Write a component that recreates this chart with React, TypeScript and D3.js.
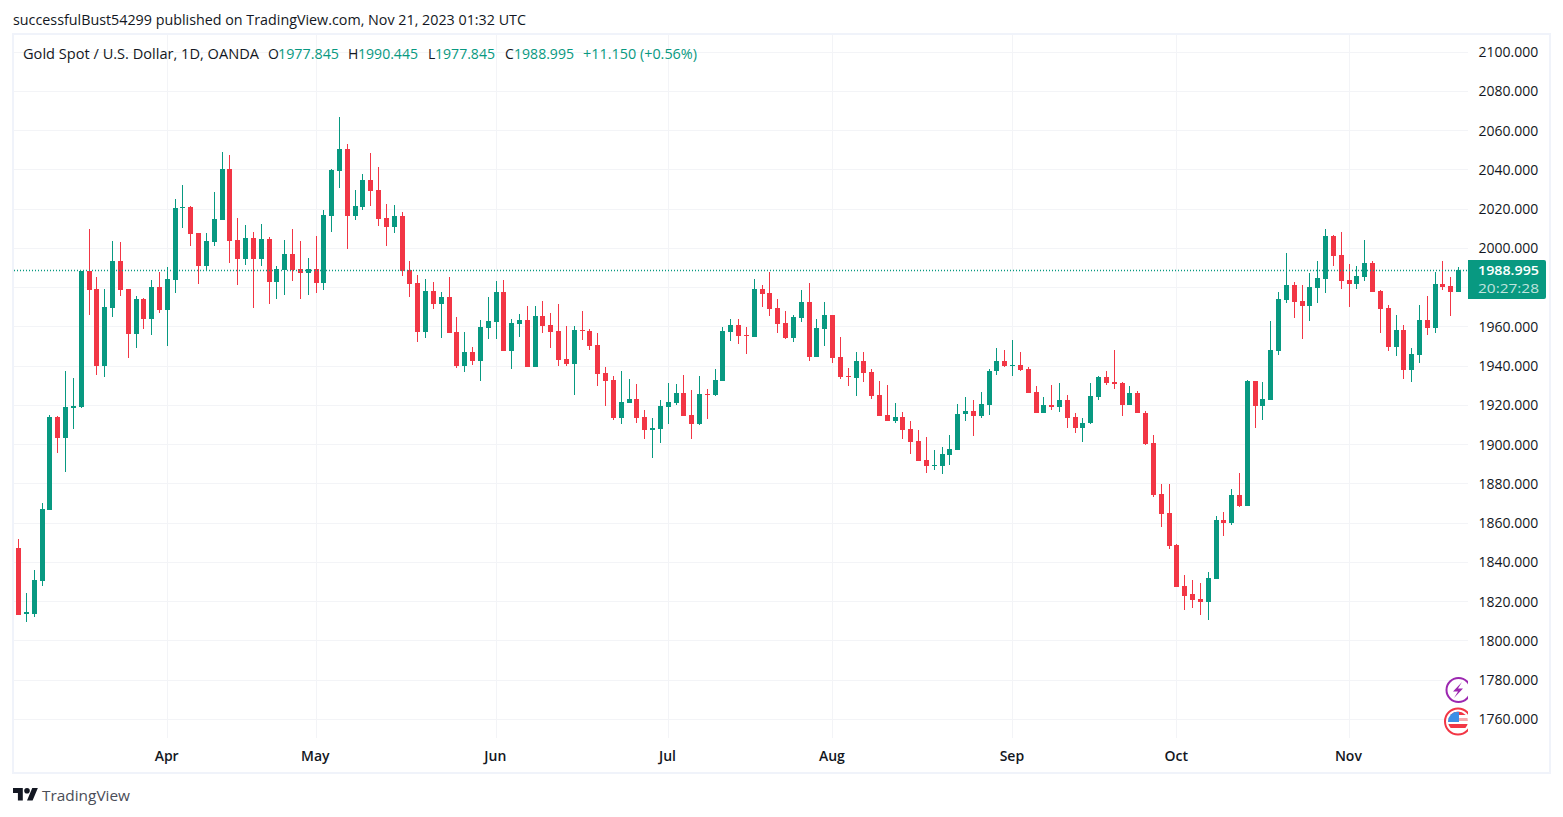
import React, { useEffect, useRef } from 'react';
import * as d3 from 'd3';

// daily OHLC, Gold Spot / USD
const opens = [
  1847.2, 1813.5, 1813.6, 1830.4, 1866.6, 1914.0, 1903.3, 1918.6, 1919.1, 1988.3,
  1979.1, 1940.0, 1969.4, 1993.4, 1979.1, 1956.2, 1974.0, 1963.9, 1980.3, 1968.6,
  1983.7, 2020.4, 2020.9, 2007.7, 1990.9, 2003.1, 2014.3, 2040.3, 2004.1, 1994.4,
  2005.1, 1994.4, 2004.6, 1982.7, 1988.8, 1997.0, 1989.3, 1987.3, 1989.3, 1982.2,
  2016.3, 2039.3, 2050.5, 2016.3, 2020.9, 2034.7, 2029.6, 2015.3, 2010.7, 2016.3,
  1988.8, 1982.2, 1957.2, 1978.1, 1971.5, 1975.0, 1957.2, 1939.9, 1947.0, 1942.4,
  1959.3, 1962.3, 1977.6, 1947.6, 1961.3, 1963.4, 1939.4, 1965.4, 1960.8, 1957.7,
  1943.5, 1940.9, 1958.3, 1957.7, 1950.6, 1936.3, 1932.8, 1913.4, 1921.0, 1923.1,
  1913.9, 1907.3, 1907.8, 1919.0, 1921.0, 1926.1, 1914.9, 1910.3, 1925.6, 1925.1,
  1932.3, 1957.2, 1960.8, 1955.7, 1954.7, 1979.2, 1977.1, 1969.5, 1961.8, 1954.2,
  1964.4, 1972.5, 1944.5, 1958.8, 1965.9, 1944.5, 1934.8, 1933.8, 1942.5, 1936.8,
  1925.1, 1914.9, 1911.9, 1913.9, 1907.8, 1901.7, 1892.0, 1888.9, 1888.9, 1894.5,
  1897.2, 1915.2, 1917.2, 1914.2, 1919.8, 1937.1, 1942.7, 1939.7, 1940.2, 1938.6,
  1926.4, 1916.2, 1919.8, 1918.8, 1922.8, 1913.7, 1908.1, 1910.6, 1923.9, 1934.1,
  1931.5, 1931.0, 1919.8, 1925.9, 1916.2, 1900.9, 1874.9, 1865.2, 1848.9, 1828.0,
  1823.5, 1821.3, 1819.8, 1831.5, 1861.6, 1860.0, 1874.3, 1868.7, 1932.4, 1919.6,
  1922.7, 1947.7, 1973.7, 1981.3, 1973.2, 1970.6, 1979.8, 1984.4, 2006.3, 1996.6,
  1983.9, 1981.8, 1985.4, 1992.5, 1978.3, 1969.6, 1949.7, 1958.4, 1938.0, 1945.6,
  1963.5, 1959.4, 1981.8, 1980.8, 1977.845,
];
const highs = [
  1851.8, 1824.3, 1836.0, 1870.2, 1915.0, 1914.5, 1937.5, 1933.9, 1988.5, 2009.7,
  1985.2, 1979.1, 2003.6, 2003.1, 1979.1, 1975.6, 1974.5, 1983.8, 1987.8, 1990.3,
  2025.0, 2032.1, 2021.4, 2007.7, 2007.7, 2028.6, 2049.0, 2047.4, 2015.3, 2011.7,
  2008.2, 2012.3, 2005.6, 1990.9, 2004.1, 2009.7, 2003.6, 1994.9, 2006.1, 2019.4,
  2040.1, 2066.8, 2053.0, 2029.6, 2037.7, 2048.4, 2041.3, 2022.5, 2021.9, 2018.4,
  1993.4, 1986.3, 1984.2, 1982.7, 1977.6, 1985.2, 1964.9, 1957.2, 1949.6, 1963.3,
  1975.0, 1983.2, 1983.7, 1963.9, 1966.4, 1970.5, 1970.5, 1973.0, 1966.9, 1971.5,
  1960.3, 1960.3, 1967.9, 1958.8, 1956.7, 1939.4, 1934.8, 1937.4, 1933.3, 1930.7,
  1917.5, 1913.4, 1922.6, 1931.2, 1930.7, 1935.3, 1927.7, 1934.8, 1928.2, 1938.4,
  1959.8, 1963.9, 1963.9, 1959.8, 1984.2, 1981.2, 1987.8, 1974.1, 1967.9, 1965.9,
  1978.6, 1982.2, 1963.9, 1972.5, 1965.9, 1954.7, 1938.9, 1947.0, 1947.0, 1938.4,
  1932.3, 1930.2, 1921.0, 1916.5, 1911.9, 1907.3, 1903.7, 1897.1, 1898.6, 1904.7,
  1920.5, 1923.9, 1922.8, 1926.4, 1938.6, 1949.3, 1948.3, 1953.4, 1946.8, 1939.2,
  1929.5, 1923.9, 1930.0, 1931.0, 1924.9, 1916.2, 1913.2, 1931.0, 1934.6, 1937.6,
  1947.8, 1932.0, 1929.5, 1927.4, 1917.2, 1904.5, 1880.0, 1880.0, 1849.4, 1833.6,
  1831.1, 1829.4, 1835.0, 1863.6, 1865.6, 1877.4, 1885.5, 1932.9, 1932.4, 1931.9,
  1963.0, 1977.7, 1997.6, 1982.8, 1981.3, 1987.4, 1993.5, 2009.9, 2006.8, 2008.3,
  1992.0, 1991.0, 2004.2, 1993.5, 1978.8, 1971.1, 1966.0, 1960.9, 1949.2, 1971.1,
  1975.7, 1987.9, 1993.5, 1985.4, 1990.445,
];
const lows = [
  1813.0, 1809.5, 1812.1, 1827.9, 1866.6, 1895.7, 1886.0, 1907.9, 1918.6, 1965.9,
  1935.4, 1934.4, 1964.9, 1975.6, 1944.0, 1949.1, 1958.8, 1955.7, 1966.9, 1950.1,
  1977.1, 2010.2, 2001.0, 1981.7, 1988.8, 2001.0, 2014.3, 1992.4, 1981.2, 1991.4,
  1969.4, 1990.9, 1971.5, 1974.0, 1976.1, 1983.2, 1974.0, 1976.1, 1977.1, 1978.6,
  2008.2, 2030.6, 1999.5, 2014.3, 2019.4, 2021.4, 2011.2, 2001.0, 2007.7, 1985.8,
  1975.0, 1952.1, 1954.2, 1968.9, 1954.2, 1956.7, 1938.9, 1936.8, 1940.4, 1932.2,
  1953.6, 1953.6, 1947.6, 1938.4, 1954.7, 1939.4, 1939.4, 1956.7, 1949.1, 1939.9,
  1939.9, 1925.1, 1953.2, 1948.1, 1929.7, 1919.5, 1912.4, 1910.3, 1921.0, 1910.9,
  1902.7, 1893.0, 1900.7, 1910.3, 1920.0, 1914.4, 1902.7, 1909.8, 1912.9, 1924.6,
  1932.3, 1952.6, 1951.1, 1946.0, 1954.7, 1970.0, 1965.4, 1956.7, 1953.7, 1952.1,
  1962.3, 1942.5, 1944.5, 1950.1, 1941.4, 1933.3, 1929.7, 1924.6, 1931.7, 1923.1,
  1914.4, 1911.9, 1910.9, 1902.7, 1895.0, 1891.5, 1885.4, 1886.9, 1884.9, 1889.4,
  1897.2, 1912.1, 1904.0, 1913.2, 1914.7, 1935.1, 1939.2, 1934.6, 1937.1, 1925.9,
  1915.7, 1916.2, 1917.7, 1916.7, 1908.1, 1906.0, 1901.4, 1910.1, 1922.8, 1930.0,
  1928.4, 1914.2, 1919.8, 1915.7, 1899.4, 1872.9, 1858.1, 1846.4, 1827.5, 1815.8,
  1816.8, 1813.1, 1810.6, 1831.5, 1853.4, 1859.0, 1868.2, 1868.7, 1908.4, 1912.5,
  1922.7, 1945.6, 1972.1, 1964.5, 1953.8, 1963.0, 1972.1, 1977.2, 1991.0, 1979.3,
  1970.1, 1979.3, 1983.4, 1977.7, 1956.8, 1947.7, 1945.1, 1933.4, 1931.9, 1941.6,
  1955.8, 1956.8, 1978.8, 1965.5, 1977.845,
];
const closes = [
  1813.1, 1814.5, 1830.9, 1867.1, 1914.0, 1903.3, 1919.1, 1919.6, 1988.3, 1978.6,
  1940.0, 1970.0, 1993.4, 1978.6, 1956.2, 1974.0, 1963.9, 1980.3, 1968.6, 1984.2,
  2020.4, 2020.9, 2007.2, 1990.9, 2003.6, 2014.8, 2040.3, 2003.6, 1994.4, 2005.1,
  1994.4, 2004.6, 1982.7, 1989.3, 1997.0, 1988.8, 1987.3, 1989.3, 1982.2, 2016.8,
  2039.8, 2050.5, 2016.3, 2021.4, 2034.7, 2029.1, 2014.8, 2010.7, 2016.3, 1988.3,
  1981.7, 1957.2, 1978.1, 1971.5, 1975.0, 1956.7, 1939.9, 1947.0, 1942.4, 1959.8,
  1962.8, 1977.6, 1947.6, 1961.8, 1963.4, 1939.4, 1965.4, 1960.3, 1957.2, 1943.0,
  1940.9, 1958.3, 1957.7, 1950.1, 1935.8, 1932.3, 1913.4, 1921.6, 1923.1, 1913.4,
  1907.3, 1908.3, 1919.5, 1921.6, 1926.1, 1914.4, 1910.3, 1925.6, 1925.1, 1932.8,
  1957.7, 1960.8, 1955.2, 1955.2, 1979.2, 1976.6, 1969.0, 1961.3, 1954.2, 1964.9,
  1972.5, 1944.5, 1959.3, 1965.9, 1944.0, 1934.3, 1934.3, 1942.5, 1936.3, 1924.6,
  1914.4, 1911.9, 1913.9, 1907.3, 1901.2, 1891.5, 1888.9, 1889.4, 1895.0, 1897.6,
  1915.4, 1917.2, 1914.2, 1920.3, 1937.6, 1942.7, 1939.7, 1940.2, 1938.1, 1925.9,
  1916.2, 1919.8, 1918.8, 1922.8, 1913.2, 1908.1, 1911.1, 1924.4, 1934.1, 1931.0,
  1930.5, 1919.8, 1925.9, 1915.7, 1900.4, 1874.4, 1864.7, 1848.4, 1827.5, 1822.9,
  1820.9, 1819.8, 1832.0, 1861.6, 1860.0, 1874.3, 1868.7, 1932.4, 1919.6, 1923.2,
  1948.2, 1974.2, 1981.3, 1972.6, 1970.6, 1980.3, 1984.9, 2006.3, 1996.1, 1983.4,
  1981.8, 1985.9, 1992.5, 1977.7, 1969.1, 1949.7, 1958.4, 1938.0, 1946.1, 1963.5,
  1959.4, 1981.8, 1980.3, 1977.7, 1988.995,
];

const priceTicks = d3.range(1760, 2101, 20);
// 1980 sits under the last price label, so it has a grid line but no text
const priceLabels = priceTicks.filter(t => t !== 1980);
const monthIndex = [19, 38, 61, 83, 104, 127, 148, 170];
const monthLabels = ['Apr', 'May', 'Jun', 'Jul', 'Aug', 'Sep', 'Oct', 'Nov'];

const UP = '#089981';
const DOWN = '#F23645';
const GRID = '#f3f4f7';
const FRAME = '#f0f3fa';
const FONT = '"Open Sans", sans-serif';

const indexes = d3.range(opens.length);
const x = d3.scalePoint<number>().domain(indexes).range([18.15, 1458.15]);
const y = d3.scaleLinear().domain([1760, 2100]).range([719.05, 51.8]);

const paneLeft = 14;
const paneRight = 1468;
const paneTop = 35;
const paneBottom = 738;

function Candles() {
  const ref = useRef<SVGGElement | null>(null);

  useEffect(() => {
    const g = d3.select(ref.current);
    const color = (i: number) => (closes[i] >= opens[i] ? UP : DOWN);
    const px = (i: number) => Math.round(x(i) as number);

    g.selectAll('.wick')
      .data(indexes)
      .join('rect')
      .attr('class', 'wick')
      .attr('x', px)
      .attr('width', 1)
      .attr('y', i => Math.round(y(highs[i])))
      .attr('height', i => Math.max(1, Math.round(y(lows[i])) - Math.round(y(highs[i]))))
      .attr('fill', color);

    g.selectAll('.body')
      .data(indexes)
      .join('rect')
      .attr('class', 'body')
      .attr('x', i => px(i) - 2)
      .attr('width', 5)
      .attr('y', i => Math.round(y(Math.max(opens[i], closes[i]))))
      .attr('height', i =>
        Math.max(1, Math.round(y(Math.min(opens[i], closes[i]))) - Math.round(y(Math.max(opens[i], closes[i])))))
      .attr('fill', color);
  }, []);

  return <g ref={ref} />;
}

function Axes() {
  const priceRef = useRef<SVGGElement | null>(null);
  const timeRef = useRef<SVGGElement | null>(null);

  useEffect(() => {
    const priceAxis = d3.axisRight(y)
      .tickValues(priceLabels)
      .tickSize(0)
      .tickPadding(0)
      .tickFormat(d3.format('.3f') as any);
    const pg = d3.select(priceRef.current).call(priceAxis as any);
    pg.select('.domain').remove();
    pg.selectAll('text')
      .attr('font-family', FONT)
      .attr('font-size', 14)
      .attr('fill', '#131722');

    const timeAxis = d3.axisBottom(x as any)
      .tickValues(monthIndex as any)
      .tickSize(0)
      .tickPadding(0)
      .tickFormat((d: any) => monthLabels[monthIndex.indexOf(d)]);
    const tg = d3.select(timeRef.current).call(timeAxis as any);
    tg.select('.domain').remove();
    tg.selectAll('text')
      .attr('font-family', FONT)
      .attr('font-size', 14)
      .attr('font-weight', 600)
      .attr('fill', '#131722');
  }, []);

  return (
    <>
      <g ref={priceRef} transform="translate(1478.5,0.3)" />
      <g ref={timeRef} transform="translate(-0.7,751)" />
    </>
  );
}

export default function App() {
  const lastY = Math.round(y(closes[closes.length - 1])) + 0.5;

  return (
    <svg
      width={1563}
      height={817}
      style={{ position: 'absolute', left: 0, top: 0, background: '#fff', display: 'block' }}
    >
      <defs>
        <clipPath id="pane-clip">
          <rect x={paneLeft} y={paneTop} width={paneRight - paneLeft} height={paneBottom - paneTop} />
        </clipPath>
      </defs>

      <text x={13} y={24.6} fontFamily={FONT} fontSize={14} fill="#131722" textLength={513} lengthAdjust="spacingAndGlyphs">
        successfulBust54299 published on TradingView.com, Nov 21, 2023 01:32 UTC
      </text>

      {/* frame */}
      <rect x={13} y={34} width={1537} height={739} fill="none" stroke={FRAME} strokeWidth={2} />

      {/* grid */}
      {priceTicks.map(t => (
        <line key={t} x1={paneLeft} x2={paneRight} y1={Math.round(y(t) - 0.3) + 0.5} y2={Math.round(y(t) - 0.3) + 0.5} stroke={GRID} />
      ))}
      {monthIndex.map(i => (
        <line key={i} x1={Math.round(x(i) as number) + 0.5} x2={Math.round(x(i) as number) + 0.5} y1={paneTop} y2={paneBottom} stroke={GRID} />
      ))}

      <Candles />

      {/* last price line */}
      <line x1={paneLeft} x2={paneRight} y1={lastY} y2={lastY} stroke={UP} strokeWidth={1.4} strokeDasharray="1 2" />

      <Axes />

      {/* last price label */}
      <path d="M1468 260H1544a2 2 0 0 1 2 2V297a2 2 0 0 1 -2 2H1468Z" fill={UP} />
      <text x={1478} y={275} fontFamily={FONT} fontSize={13} fontWeight={600} fill="#fff" textLength={61} lengthAdjust="spacingAndGlyphs">1988.995</text>
      <text x={1478} y={293} fontFamily={FONT} fontSize={13} fill="#fff" fillOpacity={0.75} textLength={61} lengthAdjust="spacingAndGlyphs">20:27:28</text>

      {/* legend */}
      <g fontFamily={FONT} fontSize={14} fill="#131722">
        <text x={23} y={59} textLength={236} lengthAdjust="spacingAndGlyphs">Gold Spot / U.S. Dollar, 1D, OANDA</text>
        <text x={268} y={59}>O</text>
        <text x={278} y={59} fill={UP} textLength={61} lengthAdjust="spacingAndGlyphs">1977.845</text>
        <text x={348} y={59}>H</text>
        <text x={358} y={59} fill={UP} textLength={60} lengthAdjust="spacingAndGlyphs">1990.445</text>
        <text x={428} y={59}>L</text>
        <text x={435} y={59} fill={UP} textLength={60} lengthAdjust="spacingAndGlyphs">1977.845</text>
        <text x={505} y={59}>C</text>
        <text x={514} y={59} fill={UP} textLength={60} lengthAdjust="spacingAndGlyphs">1988.995</text>
        <text x={583} y={59} fill={UP} textLength={114} lengthAdjust="spacingAndGlyphs">+11.150 (+0.56%)</text>
      </g>

      {/* event badges, cut by the pane edge */}
      <g clipPath="url(#pane-clip)">
        <circle cx={1458.5} cy={690} r={12} fill="#fff" stroke="#9c27b0" strokeWidth={2} />
        <path d="M1462 682L1453 691.5H1458L1454 698L1463 688.5H1458Z" fill="#9c27b0" />

        <circle cx={1458} cy={721.5} r={13} fill="#fff" stroke="#f23645" strokeWidth={2} />
        <clipPath id="flag-clip"><circle cx={1458} cy={721.5} r={10} /></clipPath>
        <g clipPath="url(#flag-clip)">
          <rect x={1448} y={711} width={21} height={4} fill="#f23645" />
          <rect x={1448} y={715} width={21} height={3} fill="#fff" />
          <rect x={1448} y={718} width={21} height={3} fill="#f7a8ad" />
          <rect x={1448} y={721} width={21} height={3} fill="#fff" />
          <rect x={1448} y={724} width={21} height={4} fill="#f23645" />
          <rect x={1448} y={728} width={21} height={4} fill="#fff" />
          <rect x={1448} y={712} width={11} height={10} fill="#3d8fe6" />
        </g>
      </g>

      {/* logo */}
      <g transform="translate(13,785.2) scale(0.7)" fill="#131722">
        <path d="M14 22H7V11H0V4h14v18zM28 22h-8l7.5-18h8L28 22z" />
        <circle cx={20} cy={8} r={4} />
      </g>
      <text x={42} y={801} fontFamily={FONT} fontSize={15} fill="#4a4d57" textLength={88} lengthAdjust="spacingAndGlyphs">TradingView</text>
    </svg>
  );
}
